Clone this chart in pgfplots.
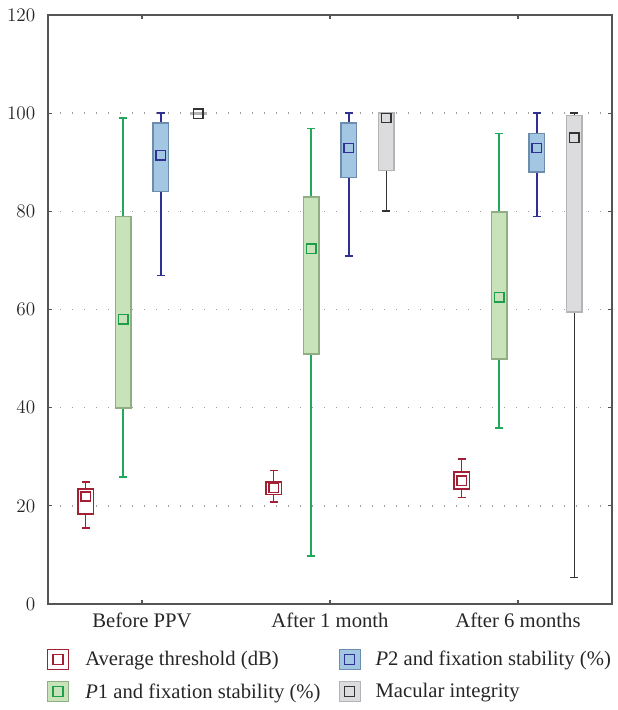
\documentclass[border=0pt]{standalone}
\usepackage{fontspec}
\setmainfont{Liberation Serif}
\usepackage{pgfplots}
\pgfplotsset{compat=1.18}
\usepgfplotslibrary{statistics}

\definecolor{redE}{HTML}{A31F34}
\definecolor{grnF}{HTML}{C8E2B9}
\definecolor{grnE}{HTML}{8FAE83}
\definecolor{grnW}{HTML}{22A85A}
\definecolor{grnM}{HTML}{1E9E4A}
\definecolor{bluF}{HTML}{A3C6E2}
\definecolor{bluE}{HTML}{6C8DAE}
\definecolor{bluW}{HTML}{2E3192}
\definecolor{gryF}{HTML}{DCDCDE}
\definecolor{gryE}{HTML}{B4B4B6}
\definecolor{gryW}{HTML}{333333}
\definecolor{axisC}{HTML}{555555}

\pgfplotsset{
  mybox/.style n args={3}{
    forget plot,
    draw=#3, line width=1.1pt,
    boxplot/draw direction=y,
    boxplot/box extend=0.082,
    boxplot/whisker extend=0.042,
    boxplot/every box/.style={draw=#2, fill=#1, line width=1.1pt},
    boxplot/every whisker/.style={draw=#3, line width=1.1pt},
    boxplot/draw/median/.code={},
  },
  mymark/.style={only marks, mark=square, mark size=3.5pt, line width=1.1pt, forget plot},
}

\begin{document}
\begin{tikzpicture}
\begin{axis}[
  scale only axis,
  width=423pt, height=441.75pt,
  xmin=0.5, xmax=3.5,
  ymin=0, ymax=120,
  xtick={1,2,3},
  xticklabels={Before PPV, After 1 month, After 6 months},
  ytick={0,20,...,120},
  tick align=inside,
  major tick length=3pt,
  tick style={draw=axisC, line width=0.8pt},
  axis line style={draw=axisC, line width=1.2pt},
  ymajorgrids,
  grid style={draw=gray!75, line width=1.1pt, dash pattern=on 1.1pt off 7.9pt},
  ticklabel style={font=\fontsize{15.5}{18}\selectfont, text=black!85},
  yticklabel style={xshift=-6pt},
  xticklabel style={yshift=-3pt},
  legend columns=2,
  legend cell align=left,
  legend style={at={(0,0)}, anchor=north west, yshift=-31pt, xshift=-4pt,
    draw=none, fill=none, font=\fontsize{15.5}{18}\selectfont, text=black!85,
    row sep=8pt},
]
\addlegendimage{legend image code/.code={
  \draw[draw=redE, fill=white, line width=1pt] (0pt,-7.5pt) rectangle (15.75pt,7.5pt);
  \draw[draw=redE, line width=1pt] (4.1pt,-3.75pt) rectangle (11.65pt,3.75pt);}}
\addlegendentry{\hspace*{10pt}\makebox[188pt][l]{Average threshold (dB)}}
\addlegendimage{legend image code/.code={
  \draw[draw=bluE, fill=bluF, line width=1pt] (0pt,-7.5pt) rectangle (15.75pt,7.5pt);
  \draw[draw=bluW, line width=1pt] (4.1pt,-3.75pt) rectangle (11.65pt,3.75pt);}}
\addlegendentry{\hspace*{9pt}\textit{P}2 and fixation stability (\%)}
\addlegendimage{legend image code/.code={
  \draw[draw=grnE, fill=grnF, line width=1pt] (0pt,-7.5pt) rectangle (15.75pt,7.5pt);
  \draw[draw=grnM, line width=1pt] (4.1pt,-3.75pt) rectangle (11.65pt,3.75pt);}}
\addlegendentry{\hspace*{10pt}\makebox[188pt][l]{\textit{P}1 and fixation stability (\%)}}
\addlegendimage{legend image code/.code={
  \draw[draw=gryE, fill=gryF, line width=1pt] (0pt,-7.5pt) rectangle (15.75pt,7.5pt);
  \draw[draw=gryW, line width=1pt] (4.1pt,-3.75pt) rectangle (11.65pt,3.75pt);}}
\addlegendentry{\hspace*{9pt}Macular integrity}

% Average threshold (dB)
\addplot[mybox={white}{redE}{redE}, boxplot prepared={draw position=0.7,
  lower whisker=15.5, lower quartile=18.3, median=21.9, upper quartile=23.4, upper whisker=24.9}] coordinates {};
\addplot[mybox={white}{redE}{redE}, boxplot prepared={draw position=1.7,
  lower whisker=20.8, lower quartile=22.3, median=23.7, upper quartile=24.9, upper whisker=27.2}] coordinates {};
\addplot[mybox={white}{redE}{redE}, boxplot prepared={draw position=2.7,
  lower whisker=21.7, lower quartile=23.4, median=25.1, upper quartile=26.9, upper whisker=29.5}] coordinates {};
% P1
\addplot[mybox={grnF}{grnE}{grnW}, boxplot prepared={draw position=0.9,
  lower whisker=25.9, lower quartile=39.9, median=58, upper quartile=78.9, upper whisker=99}] coordinates {};
\addplot[mybox={grnF}{grnE}{grnW}, boxplot prepared={draw position=1.9,
  lower whisker=9.8, lower quartile=50.9, median=72.4, upper quartile=82.9, upper whisker=96.9}] coordinates {};
\addplot[mybox={grnF}{grnE}{grnW}, boxplot prepared={draw position=2.9,
  lower whisker=35.9, lower quartile=49.9, median=62.5, upper quartile=79.9, upper whisker=95.9}] coordinates {};
% P2
\addplot[mybox={bluF}{bluE}{bluW}, boxplot prepared={draw position=1.1,
  lower whisker=66.9, lower quartile=84, median=91.4, upper quartile=98, upper whisker=100}] coordinates {};
\addplot[mybox={bluF}{bluE}{bluW}, boxplot prepared={draw position=2.1,
  lower whisker=70.9, lower quartile=86.9, median=92.9, upper quartile=98, upper whisker=100}] coordinates {};
\addplot[mybox={bluF}{bluE}{bluW}, boxplot prepared={draw position=3.1,
  lower whisker=79, lower quartile=88, median=92.9, upper quartile=95.9, upper whisker=100}] coordinates {};
% Macular integrity
\addplot[mybox={gryF}{gryE}{gryW}, boxplot prepared={draw position=1.3,
  lower whisker=100, lower quartile=99.8, median=100, upper quartile=100, upper whisker=100}] coordinates {};
\addplot[mybox={gryF}{gryE}{gryW}, boxplot prepared={draw position=2.3,
  lower whisker=80.1, lower quartile=88.3, median=99, upper quartile=100, upper whisker=100}] coordinates {};
\addplot[mybox={gryF}{gryE}{gryW}, boxplot prepared={draw position=3.3,
  lower whisker=5.4, lower quartile=59.5, median=95, upper quartile=99.5, upper whisker=100}] coordinates {};

% centre markers
\addplot[mymark, draw=redE] coordinates {(0.7,21.9) (1.7,23.7) (2.7,25.1)};
\addplot[mymark, draw=grnM] coordinates {(0.9,58) (1.9,72.4) (2.9,62.5)};
\addplot[mymark, draw=bluW] coordinates {(1.1,91.4) (2.1,92.9) (3.1,92.9)};
\addplot[mymark, draw=gryW] coordinates {(1.3,99.9) (2.3,99) (3.3,95)};
\end{axis}
\path (current axis.south west) ++(-36pt,-79.5pt);
\path (current axis.north east) ++(0.75pt,11.25pt);
\end{tikzpicture}
\end{document}
